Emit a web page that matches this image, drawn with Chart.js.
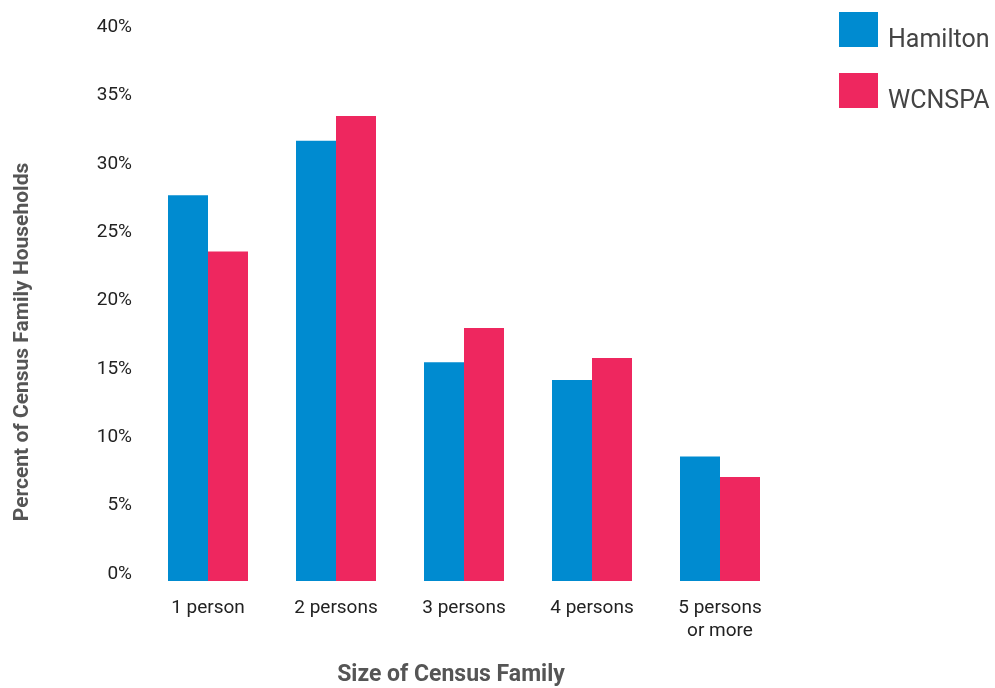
<!DOCTYPE html>
<html>
<head>
<meta charset="utf-8">
<title>Size of Census Family</title>
<script src="https://cdn.jsdelivr.net/npm/chart.js@4.4.1/dist/chart.umd.min.js"></script>
<style>
  html, body { margin: 0; padding: 0; background: #fff; }
  #wrap { width: 995px; height: 688px; position: relative; }
</style>
</head>
<body>
<div id="wrap"><canvas id="familyChart"></canvas></div>
<script>
// family size categories (last one wraps onto two lines)
const categories = ["1 person", "2 persons", "3 persons", "4 persons", ["5 persons", "or more"]];
const seriesNames = ["Hamilton", "WCNSPA"];
const hamilton = [28.2, 32.2, 16.0, 14.7, 9.1];
const wcnspa = [24.1, 34.0, 18.5, 16.3, 7.6];
const yTicks = [0, 5, 10, 15, 20, 25, 30, 35, 40];

const BLUE = "#008bd0";
const PINK = "#ee275f";

// legend + axis titles drawn by hand so they sit where they should
const titlesAndLegend = {
  id: "titlesAndLegend",
  afterDraw(chart) {
    const ctx = chart.ctx;
    ctx.save();

    // y axis title
    ctx.fillStyle = "#555";
    ctx.font = "bold 21px Roboto";
    ctx.textAlign = "center";
    ctx.textBaseline = "middle";
    ctx.translate(23, 342);
    ctx.rotate(-Math.PI / 2);
    ctx.fillText("Percent of Census Family Households", 0, 0);
    ctx.setTransform(1, 0, 0, 1, 0, 0);

    // x axis title
    ctx.font = "bold 23px Roboto";
    ctx.textBaseline = "alphabetic";
    ctx.fillText("Size of Census Family", 451, 681);

    // legend
    ctx.textAlign = "left";
    ctx.font = "25px Roboto";
    chart.data.datasets.forEach((ds, i) => {
      const top = 12 + i * 61;
      ctx.fillStyle = ds.backgroundColor;
      ctx.fillRect(839, top, 39, 35);
      ctx.fillStyle = "#444";
      ctx.fillText(ds.label, 888, top + 35);
    });
    ctx.restore();
  }
};

new Chart(document.getElementById("familyChart"), {
  type: "bar",
  data: {
    labels: categories,
    datasets: [
      { label: seriesNames[0], data: hamilton, backgroundColor: BLUE },
      { label: seriesNames[1], data: wcnspa, backgroundColor: PINK }
    ]
  },
  options: {
    responsive: true,
    maintainAspectRatio: false,
    animation: false,
    layout: { padding: { left: 84, right: 211, top: 34, bottom: 47 } },
    datasets: {
      bar: { categoryPercentage: 0.625, barPercentage: 1.0 }
    },
    plugins: {
      legend: { display: false },
      tooltip: { enabled: false }
    },
    scales: {
      x: {
        grid: { display: false, drawTicks: false },
        border: { display: false },
        ticks: {
          color: "#222",
          padding: 15,
          maxRotation: 0,
          font: { family: "Roboto", size: 19, lineHeight: 1.25 }
        },
        afterFit(scale) { scale.height = 60; }
      },
      y: {
        min: 0,
        max: 40,
        grid: { display: false, drawTicks: false },
        border: { display: false },
        afterBuildTicks(scale) {
          scale.ticks = yTicks.map(v => ({ value: v }));
        },
        afterFit(scale) { scale.width = 60; },
        ticks: {
          color: "#222",
          padding: 12,
          labelOffset: -7,
          font: { family: "Roboto", size: 19 },
          callback: v => v + "%"
        }
      }
    }
  },
  plugins: [titlesAndLegend]
});
</script>
</body>
</html>
